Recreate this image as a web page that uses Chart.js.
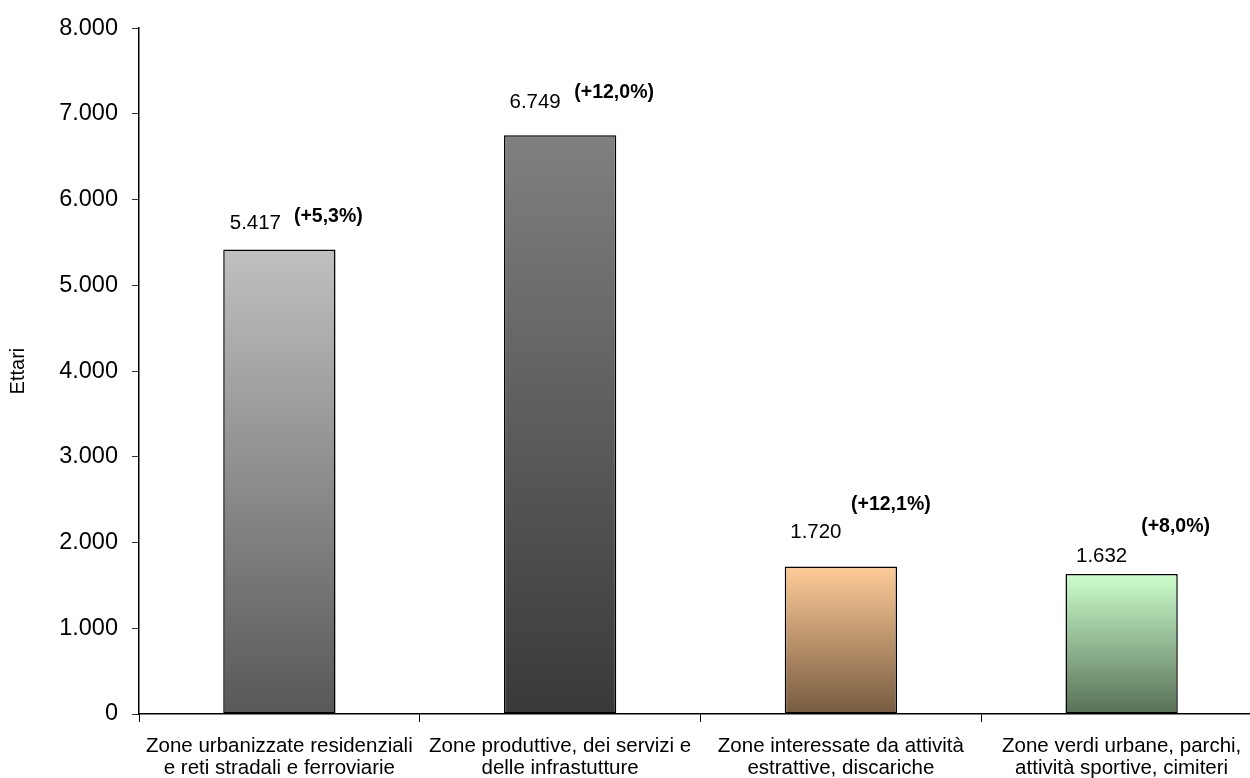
<!DOCTYPE html>
<html>
<head>
<meta charset="utf-8">
<script src="https://cdn.jsdelivr.net/npm/chart.js@4/dist/chart.umd.min.js"></script>
<style>
  html, body { margin: 0; padding: 0; background: #fff; overflow: hidden; }
  #wrap { position: absolute; left: 0; top: 0; width: 1262px; height: 778px; }
</style>
</head>
<body>
<div id="wrap"><canvas id="chart"></canvas></div>
<script>
// data
const categories = [
  ["Zone urbanizzate residenziali", "e reti stradali e ferroviarie"],
  ["Zone produttive, dei servizi e", "delle infrastutture"],
  ["Zone interessate da attività", "estrattive, discariche"],
  ["Zone verdi urbane, parchi,", "attività sportive, cimiteri"]
]
const hectares = [5417, 6749, 1720, 1632]
const changes = ["(+5,3%)", "(+12,0%)", "(+12,1%)", "(+8,0%)"]
const yTicks = [0, 1000, 2000, 3000, 4000, 5000, 6000, 7000, 8000]

// bar gradients, top colour and bottom colour
const topColours = ["#c0c0c0", "#808080", "#ffcc99", "#ccffcc"]
const bottomColours = ["#585858", "#393939", "#765a3e", "#567056"]
// label placement relative to bar top centre
const valueOffsets = [[-24, -26], [-25, -33], [-25, -34], [-20, -18]]
const changeOffsets = [[49, -33], [54, -43], [50, -62], [54, -47]]

const itNumber = v => v.toLocaleString("it-IT")

// gradient fill for each bar, from its top down to zero
barGradient = (ctx) => {
  const chart = ctx.chart
  const y = chart.scales.y
  if (!chart.chartArea || !y) return topColours[ctx.dataIndex]
  const top = y.getPixelForValue(hectares[ctx.dataIndex])
  const base = y.getPixelForValue(0)
  const g = chart.ctx.createLinearGradient(0, top, 0, base)
  g.addColorStop(0, topColours[ctx.dataIndex])
  g.addColorStop(1, bottomColours[ctx.dataIndex])
  return g
}

// draw value and percentage labels above bars
const barLabels = {
  id: "barLabels",
  afterDatasetsDraw(chart) {
    const c = chart.ctx
    const meta = chart.getDatasetMeta(0)
    c.save()
    c.fillStyle = "#000"
    c.textAlign = "center"
    c.textBaseline = "middle"
    meta.data.forEach((bar, i) => {
      c.font = "20.5px 'Liberation Sans', Arial, sans-serif"
      c.fillText(itNumber(hectares[i]), bar.x + valueOffsets[i][0], bar.y + valueOffsets[i][1])
      c.font = "bold 19.5px 'Liberation Sans', Arial, sans-serif"
      c.fillText(changes[i], bar.x + changeOffsets[i][0], bar.y + changeOffsets[i][1])
    })
    c.restore()
  }
}

const font = "'Liberation Sans', Arial, sans-serif"

new Chart(document.getElementById("chart"), {
  type: "bar",
  data: {
    labels: categories,
    datasets: [{
      label: "Ettari",
      data: hectares,
      backgroundColor: barGradient,
      borderColor: "#000",
      borderWidth: 1.5,
      borderSkipped: false,
      categoryPercentage: 1,
      barPercentage: 0.4
    }]
  },
  options: {
    responsive: true,
    maintainAspectRatio: false,
    animation: false,
    layout: { padding: { top: 21, right: 0, bottom: 0, left: 0 } },
    plugins: {
      legend: { display: false },
      tooltip: { enabled: false }
    },
    scales: {
      x: {
        grid: { drawOnChartArea: false, drawTicks: true, tickLength: 8, color: "#000", offset: true },
        border: { color: "#000", width: 1.5 },
        ticks: {
          color: "#000",
          font: { family: font, size: 20.5, lineHeight: 1.05 },
          padding: 14,
          maxRotation: 0,
          autoSkip: false
        },
        afterFit: s => { s.height = 64 }
      },
      y: {
        min: 0,
        max: 8000,
        afterBuildTicks: s => { s.ticks = yTicks.map(v => ({ value: v })) },
        grid: { drawOnChartArea: false, drawTicks: true, tickLength: 7, color: "#333" },
        border: { color: "#000", width: 1.5 },
        ticks: {
          color: "#000",
          font: { family: font, size: 23.5 },
          padding: 14,
          callback: v => itNumber(v)
        },
        title: {
          display: true,
          text: "Ettari",
          color: "#000",
          font: { family: font, size: 20 },
          padding: { top: 6, bottom: 0 }
        },
        afterFit: s => { s.width = 139 }
      }
    }
  },
  plugins: [barLabels]
})
</script>
</body>
</html>
